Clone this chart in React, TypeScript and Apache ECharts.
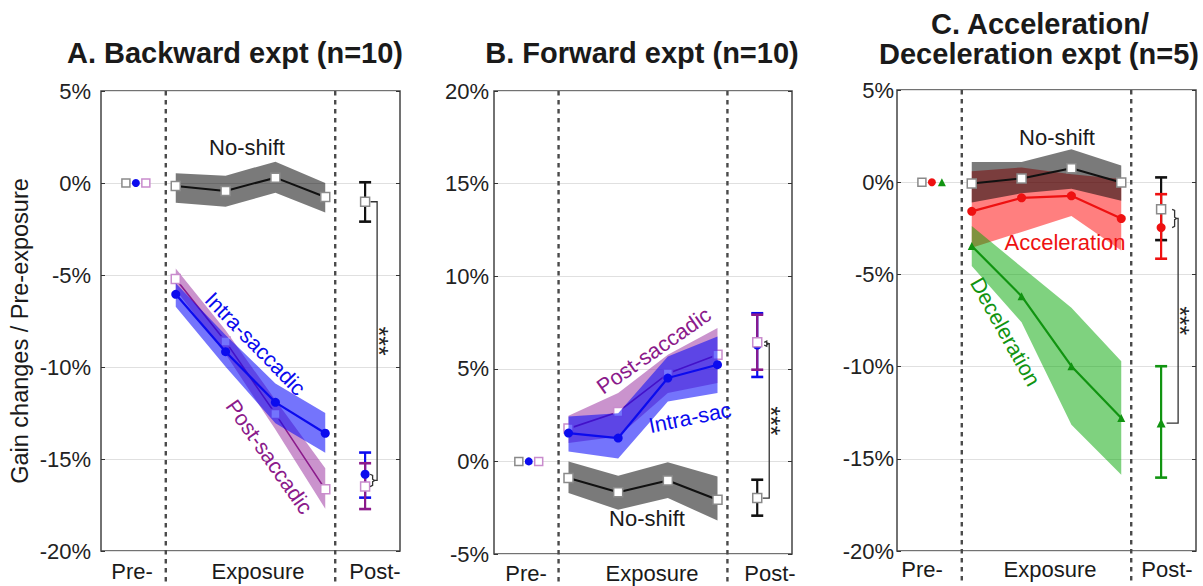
import React, { useEffect, useRef } from 'react';
import * as echarts from 'echarts';

const FONT = '"Liberation Sans", Arial, Helvetica, sans-serif';

// ---------- shared x layout (axis units 0..6) ----------
const exposureX = [1.5, 2.5, 3.5, 4.5];
const preX = [0.5, 0.7, 0.9];
const postX = 5.3;
const dividerX = [1.3, 4.7];
const phaseLabels = ['Pre-', 'Exposure', 'Post-'];

// ---------- y tick labels (percent) ----------
const yTicksA = [-20, -15, -10, -5, 0, 5];
const yTicksB = [-5, 0, 5, 10, 15, 20];
const yTicksC = [-20, -15, -10, -5, 0, 5];

// ---------- Panel A: Backward expt ----------
const aNoShiftMean = [-0.16, -0.43, 0.29, -0.76];
const aNoShiftHi = [0.53, 0.4, 1.16, 0.0];
const aNoShiftLo = [-1.07, -1.29, -0.53, -1.6];
const aIntraMean = [-6.05, -9.17, -11.92, -13.6];
const aIntraHi = [-5.45, -8.26, -10.89, -12.5];
const aIntraLo = [-6.72, -9.98, -13.06, -14.66];
const aPostSacMean = [-5.22, -8.62, -12.55, -16.65];
const aPostSacHi = [-4.64, -8.0, -11.8, -15.5];
const aPostSacLo = [-5.82, -9.3, -13.4, -17.7];
// post-exposure test: [mean, upper, lower]
const aAfterNoShift = [-1.02, 0.04, -2.1];
const aAfterIntra = [-15.83, -14.65, -17.1];
const aAfterPostSac = [-16.5, -15.23, -17.72];

// ---------- Panel B: Forward expt ----------
const bNoShiftMean = [-0.9, -1.67, -1.03, -2.07];
const bNoShiftHi = [0.0, -0.77, -0.05, -0.81];
const bNoShiftLo = [-1.71, -2.61, -1.98, -3.19];
const bIntraMean = [1.53, 1.26, 4.5, 5.22];
const bIntraHi = [2.43, 2.6, 5.67, 6.75];
const bIntraLo = [0.54, 0.15, 3.24, 3.69];
const bPostSacMean = [1.77, 2.67, 4.74, 5.76];
const bPostSacHi = [2.47, 3.69, 5.76, 7.2];
const bPostSacLo = [0.99, 1.35, 3.69, 4.23];
const bAfterNoShift = [-1.98, -0.99, -2.93];
const bAfterIntra = [6.28, 8.0, 4.56];
const bAfterPostSac = [6.43, 7.92, 4.95];

// ---------- Panel C: Acceleration / Deceleration expt ----------
const cNoShiftMean = [-0.07, 0.2, 0.76, -0.02];
const cNoShiftHi = [1.1, 1.1, 1.79, 0.9];
const cNoShiftLo = [-1.1, -0.6, -0.36, -1.0];
const cAccMean = [-1.58, -0.85, -0.74, -1.97];
const cAccHi = [0.6, 0.8, 0.43, 0.18];
const cAccLo = [-3.55, -2.7, -1.83, -3.7];
const cDecMean = [-3.46, -6.18, -9.98, -12.79];
const cDecHi = [-2.37, -4.6, -6.81, -9.71];
const cDecLo = [-4.55, -7.6, -13.15, -15.87];
const cAfterNoShift = [-1.47, 0.26, -3.14];
const cAfterAcc = [-2.46, -0.65, -4.15];
const cAfterDec = [-13.06, -9.98, -16.02];

// ---------- colours ----------
const C = {
  black: '#111111',
  gray: '#8a8a8a',
  blue: '#0b0bee',
  purple: '#8b1a8b',
  pink: '#c98ccd',
  red: '#ee1111',
  green: '#119411',
  grayBand: 'rgba(0,0,0,0.52)',
  blueBand: 'rgba(10,10,250,0.57)',
  purpleBand: 'rgba(150,40,155,0.5)',
  redBand: 'rgba(255,0,0,0.5)',
  greenBand: 'rgba(0,165,0,0.5)',
};

let zc = 1;
const nz = () => zc++;

function band(g: number, hi: number[], lo: number[], color: string) {
  return {
    type: 'custom',
    xAxisIndex: g,
    yAxisIndex: 2 * g,
    z: nz(),
    silent: true,
    data: exposureX.map((x, i) => [x, hi[i], lo[i]]),
    encode: { x: 0, y: [1, 2] },
    renderItem: (params: any, api: any) => {
      if (params.dataIndex !== 0) return null;
      const top = exposureX.map((x, i) => api.coord([x, hi[i]]));
      const bot = exposureX.map((x, i) => api.coord([x, lo[i]])).reverse();
      return { type: 'polygon', shape: { points: top.concat(bot) }, style: { fill: color } };
    },
  };
}

function meanLine(g: number, ys: number[], lineColor: string, symbol: string, fill: string, border: string | null, width = 2, size = 9) {
  return {
    type: 'line',
    xAxisIndex: g,
    yAxisIndex: 2 * g,
    z: nz(),
    silent: true,
    data: exposureX.map((x, i) => [x, ys[i]]),
    symbol,
    symbolSize: size,
    showSymbol: true,
    lineStyle: { color: lineColor, width },
    itemStyle: { color: fill, borderColor: border || fill, borderWidth: border ? 1.5 : 0 },
  };
}

function marker(g: number, x: number, y: number, symbol: string, fill: string, border: string | null, size = 9) {
  return {
    type: 'scatter',
    xAxisIndex: g,
    yAxisIndex: 2 * g,
    z: nz(),
    silent: true,
    data: [[x, y]],
    symbol,
    symbolSize: size,
    itemStyle: { color: fill, borderColor: border || fill, borderWidth: border ? 1.5 : 0, opacity: 1 },
  };
}

function errorBar(g: number, vals: number[], color: string) {
  return {
    type: 'custom',
    xAxisIndex: g,
    yAxisIndex: 2 * g,
    z: nz(),
    silent: true,
    data: [[postX, vals[1], vals[2]]],
    encode: { x: 0, y: [1, 2] },
    renderItem: (params: any, api: any) => {
      const top = api.coord([api.value(0), api.value(1)]);
      const bot = api.coord([api.value(0), api.value(2)]);
      const s = { stroke: color, lineWidth: 2.2 };
      const cap = { stroke: color, lineWidth: 2.6 };
      return {
        type: 'group',
        children: [
          { type: 'line', shape: { x1: top[0], y1: top[1], x2: bot[0], y2: bot[1] }, style: s },
          { type: 'line', shape: { x1: top[0] - 6, y1: top[1], x2: top[0] + 6, y2: top[1] }, style: cap },
          { type: 'line', shape: { x1: bot[0] - 6, y1: bot[1], x2: bot[0] + 6, y2: bot[1] }, style: cap },
        ],
      };
    },
  };
}

function bracket(g: number, single: number, pairA: number, pairB: number, braceOff: number, barOff: number) {
  return {
    type: 'custom',
    xAxisIndex: g,
    yAxisIndex: 2 * g,
    z: nz(),
    silent: true,
    data: [[postX, single, pairA, pairB]],
    encode: { x: 0, y: [1, 2, 3] },
    renderItem: (params: any, api: any) => {
      const px = api.coord([api.value(0), 0])[0];
      const ys = api.coord([api.value(0), api.value(1)])[1];
      const ya = api.coord([api.value(0), api.value(2)])[1];
      const yb = api.coord([api.value(0), api.value(3)])[1];
      const bx = px + braceOff;
      const vx = px + barOff;
      const ym = (ya + yb) / 2;
      const st = { stroke: '#333', lineWidth: 1.3, fill: 'none' };
      return {
        type: 'group',
        children: [
          {
            type: 'polyline',
            shape: { points: [[bx, ya], [bx + 2.5, ya + 1.2], [bx + 2.5, ym - 1.2], [bx + 4.5, ym], [bx + 2.5, ym + 1.2], [bx + 2.5, yb - 1.2], [bx, yb]] },
            style: st,
          },
          { type: 'polyline', shape: { points: [[bx + 4.5, ym], [vx, ym], [vx, ys], [px + 5.5, ys]] }, style: st },
          {
            type: 'text',
            x: vx + 2,
            y: (ym + ys) / 2,
            rotation: -Math.PI / 2,
            style: { text: '***', fill: '#222', font: `25px ${FONT}`, align: 'center', verticalAlign: 'middle', textAlign: 'center', textVerticalAlign: 'middle' },
          },
        ],
      };
    },
  };
}

function dividers(g: number, yMin: number, yMax: number) {
  return {
    type: 'custom',
    xAxisIndex: g,
    yAxisIndex: 2 * g,
    z: nz(),
    silent: true,
    clip: false,
    data: dividerX.map((x) => [x, yMin]),
    encode: { x: 0, y: 1 },
    renderItem: (params: any, api: any) => {
      const top = api.coord([api.value(0), yMax]);
      const bot = api.coord([api.value(0), yMin]);
      return {
        type: 'line',
        shape: { x1: top[0], y1: top[1], x2: bot[0], y2: bot[1] + 32 },
        style: { stroke: '#4a4a4a', lineWidth: 2.4, lineDash: [4.5, 4.5] },
      };
    },
  };
}

function txt(text: string, x: number, y: number, o: any = {}) {
  return {
    type: 'text',
    x,
    y,
    rotation: o.rot || 0,
    silent: true,
    z: 100,
    style: {
      text,
      fill: o.color || '#1a1a1a',
      font: `${o.bold ? 'bold ' : ''}${o.size || 22}px ${FONT}`,
      align: 'center',
      verticalAlign: 'middle',
      textAlign: 'center',
      textVerticalAlign: 'middle',
    },
  };
}

function buildOption() {
  zc = 1;
  const grids = [
    { left: 101, top: 91, width: 299, height: 460 },
    { left: 494, top: 91, width: 298, height: 463 },
    { left: 897, top: 90, width: 299, height: 461 },
  ];
  const ticks = [yTicksA, yTicksB, yTicksC];
  const margins = [10, 5, 3];

  const yAxis: any[] = [];
  ticks.forEach((t, i) => {
    const min = t[0];
    const max = t[t.length - 1];
    yAxis.push({
      type: 'value',
      gridIndex: i,
      min,
      max,
      interval: 5,
      position: 'left',
      axisLine: { show: false },
      axisTick: { show: true, inside: true, length: 4, lineStyle: { color: '#333' } },
      axisLabel: { formatter: (v: number) => `${v}%`, fontSize: 22, color: '#222', fontFamily: FONT, margin: margins[i] },
      splitLine: { show: true, lineStyle: { color: '#e0e0e0', width: 1 } },
    });
    yAxis.push({
      type: 'value',
      gridIndex: i,
      min,
      max,
      interval: 5,
      position: 'right',
      axisLine: { show: false },
      axisTick: { show: true, inside: true, length: 4, lineStyle: { color: '#333' } },
      axisLabel: { show: false },
      splitLine: { show: false },
    });
  });

  const series: any[] = [];
  // ---- A ----
  series.push(dividers(0, yTicksA[0], yTicksA[yTicksA.length - 1]));
  series.push(band(0, aNoShiftHi, aNoShiftLo, C.grayBand));
  series.push(band(0, aPostSacHi, aPostSacLo, C.purpleBand));
  series.push(meanLine(0, aPostSacMean, C.purple, 'rect', '#fff', C.pink, 1.6, 9));
  series.push(band(0, aIntraHi, aIntraLo, C.blueBand));
  series.push(meanLine(0, aIntraMean, C.blue, 'circle', C.blue, null, 2.2, 9));
  series.push(meanLine(0, aNoShiftMean, C.black, 'rect', '#fff', C.gray, 2, 9));
  series.push(marker(0, preX[0], 0, 'rect', '#fff', C.gray, 8));
  series.push(marker(0, preX[1], 0, 'circle', C.blue, null, 8));
  series.push(marker(0, preX[2], 0, 'rect', '#fff', C.pink, 8));
  series.push(errorBar(0, aAfterNoShift, C.black));
  series.push(errorBar(0, aAfterIntra, C.blue));
  series.push(errorBar(0, aAfterPostSac, C.purple));
  series.push(marker(0, postX, aAfterNoShift[0], 'rect', '#fff', C.gray, 9));
  series.push(marker(0, postX, aAfterIntra[0], 'circle', C.blue, null, 9));
  series.push(marker(0, postX, aAfterPostSac[0], 'rect', '#fff', C.pink, 9));
  series.push(bracket(0, aAfterNoShift[0], aAfterIntra[0], aAfterPostSac[0], 5, 12));

  // ---- B ----
  series.push(dividers(1, yTicksB[0], yTicksB[yTicksB.length - 1]));
  series.push(band(1, bNoShiftHi, bNoShiftLo, C.grayBand));
  series.push(band(1, bPostSacHi, bPostSacLo, C.purpleBand));
  series.push(meanLine(1, bPostSacMean, C.purple, 'rect', '#fff', C.pink, 1.6, 9));
  series.push(band(1, bIntraHi, bIntraLo, C.blueBand));
  series.push(meanLine(1, bIntraMean, C.blue, 'circle', C.blue, null, 2.2, 9));
  series.push(meanLine(1, bNoShiftMean, C.black, 'rect', '#fff', C.gray, 2, 9));
  series.push(marker(1, preX[0], 0, 'rect', '#fff', C.gray, 8));
  series.push(marker(1, preX[1], 0, 'circle', C.blue, null, 8));
  series.push(marker(1, preX[2], 0, 'rect', '#fff', C.pink, 8));
  series.push(errorBar(1, bAfterNoShift, C.black));
  series.push(errorBar(1, bAfterIntra, C.blue));
  series.push(errorBar(1, bAfterPostSac, C.purple));
  series.push(marker(1, postX, bAfterNoShift[0], 'rect', '#fff', C.gray, 9));
  series.push(marker(1, postX, bAfterIntra[0], 'circle', C.blue, null, 9));
  series.push(marker(1, postX, bAfterPostSac[0], 'rect', '#fff', C.pink, 9));
  series.push(bracket(1, bAfterNoShift[0], bAfterIntra[0], bAfterPostSac[0], 7, 12));

  // ---- C ----
  series.push(dividers(2, yTicksC[0], yTicksC[yTicksC.length - 1]));
  series.push(band(2, cAccHi, cAccLo, C.redBand));
  series.push(band(2, cDecHi, cDecLo, C.greenBand));
  series.push(band(2, cNoShiftHi, cNoShiftLo, C.grayBand));
  series.push(meanLine(2, cAccMean, C.red, 'circle', C.red, null, 2.2, 9));
  series.push(meanLine(2, cDecMean, C.green, 'triangle', C.green, null, 2.2, 8));
  series.push(meanLine(2, cNoShiftMean, C.black, 'rect', '#fff', C.gray, 2, 9));
  series.push(marker(2, preX[0], 0, 'rect', '#fff', C.gray, 8));
  series.push(marker(2, preX[1], 0, 'circle', C.red, null, 8));
  series.push(marker(2, preX[2], 0, 'triangle', C.green, null, 8));
  series.push(errorBar(2, cAfterNoShift, C.black));
  series.push(errorBar(2, cAfterAcc, C.red));
  series.push(errorBar(2, cAfterDec, C.green));
  series.push(marker(2, postX, cAfterNoShift[0], 'rect', '#fff', C.gray, 9));
  series.push(marker(2, postX, cAfterAcc[0], 'circle', C.red, null, 9));
  series.push(marker(2, postX, cAfterDec[0], 'triangle', C.green, null, 9));
  series.push(bracket(2, cAfterDec[0], cAfterNoShift[0], cAfterAcc[0], 11, 17));

  const graphic: any[] = [
    txt('A. Backward expt (n=10)', 235, 53, { bold: true, size: 29 }),
    txt('B. Forward expt (n=10)', 642, 53, { bold: true, size: 29 }),
    txt('C. Acceleration/', 1040, 24, { bold: true, size: 29 }),
    txt('Deceleration expt (n=5)', 1039, 54, { bold: true, size: 29 }),
    txt('Gain changes / Pre-exposure', 20, 331, { rot: Math.PI / 2, size: 23.5 }),
    // phase labels
    txt(phaseLabels[0], 132, 571),
    txt(phaseLabels[1], 258, 571),
    txt(phaseLabels[2], 375, 571),
    txt(phaseLabels[0], 526, 573),
    txt(phaseLabels[1], 652, 573),
    txt(phaseLabels[2], 770, 573),
    txt(phaseLabels[0], 922, 569),
    txt(phaseLabels[1], 1050, 569),
    txt(phaseLabels[2], 1167, 569),
    // series labels
    txt('No-shift', 247, 147),
    txt('Intra-saccadic', 255, 344, { color: C.blue, rot: -0.8, size: 21.5 }),
    txt('Post-saccadic', 269, 457, { color: C.purple, rot: -0.96, size: 21.5 }),
    txt('Post-saccadic', 654, 351, { color: C.purple, rot: 0.61, size: 21.5 }),
    txt('Intra-sac', 690, 418, { color: C.blue, rot: 0.2, size: 21.5 }),
    txt('No-shift', 647, 518),
    txt('No-shift', 1057, 137),
    txt('Acceleration', 1065, 242, { color: C.red }),
    txt('Deceleration', 1005, 332, { color: C.green, rot: -1.06, size: 21.5 }),
  ];

  return {
    animation: false,
    backgroundColor: '#ffffff',
    grid: grids.map((g) => ({ ...g, show: true, borderColor: '#444', borderWidth: 1.5, backgroundColor: 'transparent' })),
    xAxis: grids.map((_, i) => ({ type: 'value', gridIndex: i, min: 0, max: 6, show: false })),
    yAxis,
    series,
    graphic,
  };
}

function App() {
  const ref = useRef<HTMLDivElement>(null);
  useEffect(() => {
    document.body.style.margin = '0';
    const chart = echarts.init(ref.current as HTMLDivElement, null, { renderer: 'svg' });
    chart.setOption(buildOption() as any);
    return () => chart.dispose();
  }, []);
  return <div ref={ref} style={{ width: 1203, height: 586 }} />;
}

export default App;
